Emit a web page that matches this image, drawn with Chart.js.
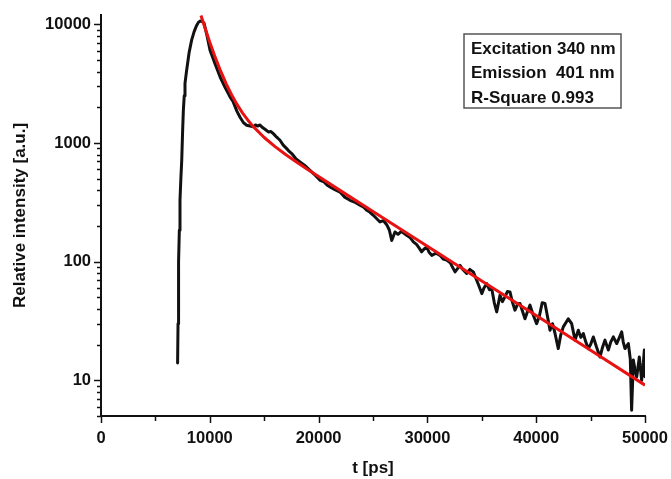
<!DOCTYPE html>
<html>
<head>
<meta charset="utf-8">
<script src="https://cdn.jsdelivr.net/npm/chart.js@4.4.1/dist/chart.umd.min.js"></script>
<style>
  html, body { margin: 0; padding: 0; background: #fff; }
  #wrap { width: 671px; height: 479px; }
</style>
</head>
<body>
<div id="wrap"><canvas id="graph"></canvas></div>
<script>

const timePs = [
  7040, 7080, 7110, 7150, 7200, 7260, 7340, 7420, 7500, 7570, 7650, 7720, 7870, 8100, 8330, 8560, 8790, 8950, 9100, 9280,
  9470, 9750, 10020, 10480, 10940, 11400, 11860, 12160, 12500, 12780, 13100, 13390, 13700, 14000, 14200, 14400, 14610, 14850, 15100, 15380,
  15600, 15840, 16150, 16450, 16750, 17070, 17300, 17530, 17900, 18290, 18700, 19210, 19600, 20130, 20500, 20800, 21050, 21500, 21970, 22400,
  22890, 23300, 23800, 24100, 24420, 24700, 25030, 25350, 25640, 25950, 26260, 26500, 26720, 27020, 27300, 27600, 28090, 28400, 28710, 29000,
  29250, 29470, 29700, 29940, 30150, 30400, 30800, 31160, 31450, 31770, 32100, 32300, 32540, 33000, 33300, 33610, 33900, 34220, 34530, 34750,
  35000, 35200, 35450, 35700, 35910, 36150, 36370, 36670, 36900, 37130, 37350, 37590, 37800, 38050, 38300, 38510, 38750, 38970, 39200, 39430,
  39700, 40040, 40300, 40550, 40810, 41050, 41270, 41500, 41730, 42030, 42250, 42490, 42950, 43260, 43570, 43870, 44100, 44330, 44560, 44790,
  45000, 45250, 45550, 45860, 46100, 46320, 46630, 46850, 47090, 47400, 47650, 47860, 48000, 48160, 48470, 48650, 48770, 48930, 49100, 49240,
  49480, 49690, 49850, 49940, 50000
];
const intensity = [
  14, 30, 51, 100, 184, 329, 500, 714, 1250, 1888, 2500, 3185, 4100, 5800, 7370, 8700, 9800, 10400, 10660, 10600,
  10250, 8000, 6070, 4650, 3620, 2950, 2450, 2214, 1850, 1650, 1480, 1414, 1390, 1370, 1420, 1390, 1420, 1350, 1300, 1240,
  1250, 1200, 1120, 1055, 960, 897, 850, 815, 740, 692, 650, 589, 545, 485, 470, 440, 426, 405, 386, 350,
  329, 318, 299, 290, 271, 262, 246, 230, 216, 222, 205, 185, 151, 178, 170, 180, 167, 160, 147, 140,
  130, 121, 128, 133, 120, 113, 118, 113, 105, 103, 98, 90, 82, 93, 85, 79.5, 86, 82, 69.7, 62,
  53.8, 60, 65.3, 58, 59.3, 45, 37.7, 52, 46, 50.5, 56, 55.6, 46, 39, 44, 44.4, 38, 33, 38, 43,
  36, 30, 35, 45, 44.4, 34, 26.4, 30, 24.8, 18.5, 24, 28.2, 33, 30, 21.8, 26.4, 23, 24.8, 21, 18.5,
  20, 23.2, 19, 15.7, 19, 21.8, 18, 21, 23.2, 20.4, 23, 25.6, 21, 18.5, 20.4, 15, 5.6, 14.8, 12, 10.7,
  15.7, 10, 14, 18, 10.7
];

const fitTime = [9190, 9500, 10000, 10500, 11000, 11500, 12000, 12500, 13000, 13500, 14000, 15000, 16000, 17000, 18000, 19000, 20000, 22000, 25000, 30000, 35000, 40000, 45000, 50000];
const fitValue = [11900, 9690, 7065, 5267, 4030, 3164, 2554, 2116, 1796, 1557, 1374, 1113, 933, 797, 689, 597, 522, 397, 265, 135, 68.8, 35.1, 17.9, 9.1];

const xTicks = [0, 5000, 10000, 15000, 20000, 25000, 30000, 35000, 40000, 45000, 50000];
const yTicks = [5, 6, 7, 8, 9, 10, 20, 30, 40, 50, 60, 70, 80, 90, 100, 200, 300, 400, 500, 600, 700, 800, 900,
  1000, 2000, 3000, 4000, 5000, 6000, 7000, 8000, 9000, 10000];
const yLabels = [10, 100, 1000, 10000];

const infoLines = ['Excitation 340 nm', 'Emission  401 nm', 'R-Square 0.993'];

const fontFam = '"Liberation Sans", Arial, Helvetica, sans-serif';

// petits traits des graduations (majeures / mineures), vers l'exterieur
const tickMarks = {
  id: 'tickMarks',
  afterDraw(chart) {
    const ctx = chart.ctx;
    const xs = chart.scales.x, ys = chart.scales.y;
    ctx.save();
    ctx.strokeStyle = '#111';
    ctx.lineWidth = 1.5;
    xs.ticks.forEach(t => {
      const px = Math.round(xs.getPixelForValue(t.value)) + 0.5;
      const len = t.value % 10000 === 0 ? 7 : 5;
      ctx.beginPath();
      ctx.moveTo(px, xs.top);
      ctx.lineTo(px, xs.top + len);
      ctx.stroke();
    });
    ys.ticks.forEach(t => {
      const py = Math.round(ys.getPixelForValue(t.value)) + 0.5;
      const len = yLabels.includes(t.value) ? 7 : 4;
      ctx.beginPath();
      ctx.moveTo(ys.right, py);
      ctx.lineTo(ys.right - len, py);
      ctx.stroke();
    });
    ctx.restore();
  }
};

// encadre avec les infos de mesure
const infoBox = {
  id: 'infoBox',
  afterDraw(chart) {
    const ctx = chart.ctx;
    const area = chart.chartArea;
    const left = area.right - 181, top = area.top + 19;
    ctx.save();
    ctx.strokeStyle = '#555';
    ctx.lineWidth = 1.5;
    ctx.strokeRect(left, top, 157, 74);
    ctx.fillStyle = '#111';
    ctx.font = 'bold 17px ' + fontFam;
    ctx.textBaseline = 'middle';
    infoLines.forEach((txt, i) => {
      ctx.fillText(txt, left + 7, top + 15 + i * 24.5);
    });
    ctx.restore();
  }
};

function noPad(s) {
  s.paddingLeft = 0;
  s.paddingRight = 0;
  s.paddingTop = 0;
  s.paddingBottom = 0;
}

const a = document.getElementById('graph');

new Chart(a, {
  type: 'line',
  data: {
    datasets: [
      {
        label: 'Mesure',
        data: timePs.map((t, i) => ({x: t, y: intensity[i]})),
        borderColor: '#111',
        borderWidth: 3,
        borderJoinStyle: 'round',
        borderCapStyle: 'round',
        pointRadius: 0,
        tension: 0,
        order: 2
      },
      {
        label: 'Fit',
        data: fitTime.map((t, i) => ({x: t, y: fitValue[i]})),
        borderColor: 'rgb(232,18,18)',
        borderWidth: 3,
        borderJoinStyle: 'round',
        pointRadius: 0,
        tension: 0,
        order: 1
      }
    ]
  },
  options: {
    responsive: true,
    maintainAspectRatio: false,
    animation: false,
    layout: {padding: {top: 15, right: 26, left: 0, bottom: 0}},
    plugins: {
      legend: {display: false},
      tooltip: {enabled: false}
    },
    scales: {
      x: {
        type: 'linear',
        min: 0,
        max: 50000,
        afterBuildTicks: s => { s.ticks = xTicks.map(v => ({value: v})); },
        afterFit: s => { s.height = 63; noPad(s); },
        grid: {display: true, drawOnChartArea: false, drawTicks: false},
        border: {display: true, color: '#111', width: 2},
        ticks: {
          autoSkip: false,
          maxRotation: 0,
          padding: 13,
          color: '#111',
          font: {family: fontFam, size: 16.5, weight: 'bold'},
          callback: v => (v % 10000 === 0 ? String(v) : '')
        },
        title: {
          display: true,
          text: 't [ps]',
          color: '#111',
          font: {family: fontFam, size: 17, weight: 'bold'},
          padding: {top: 0, bottom: 0}
        }
      },
      y: {
        type: 'logarithmic',
        min: 5,
        max: 12000,
        afterBuildTicks: s => { s.ticks = yTicks.map(v => ({value: v})); },
        afterFit: s => { s.width = 101; noPad(s); },
        grid: {display: true, drawOnChartArea: false, drawTicks: false},
        border: {display: true, color: '#111', width: 2},
        ticks: {
          autoSkip: false,
          padding: 10,
          color: '#111',
          font: {family: fontFam, size: 16.5, weight: 'bold'},
          callback: v => (yLabels.includes(v) ? String(v) : '')
        },
        title: {
          display: true,
          text: 'Relative intensity [a.u.]',
          color: '#111',
          font: {family: fontFam, size: 17, weight: 'bold'},
          padding: {top: 10, bottom: 0}
        }
      }
    }
  },
  plugins: [tickMarks, infoBox]
});
</script>
</body>
</html>
